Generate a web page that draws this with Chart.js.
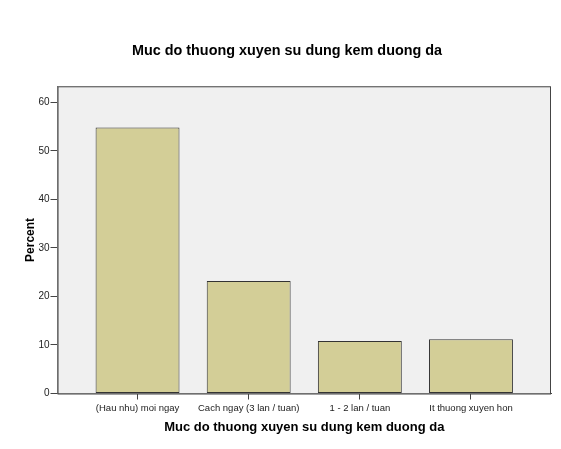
<!DOCTYPE html>
<html>
<head>
    <title>Muc do thuong xuyen su dung kem duong da</title>
    <script src="https://cdn.jsdelivr.net/npm/chart.js"></script>
    <style>
        body { margin: 0; background: #fff; }
        #wrap { width: 561px; height: 449px; position: relative; }
    </style>
</head>
<body>
    <div id="wrap"><canvas id="chart"></canvas></div>

    <script>
        // data
        const categories = ['(Hau nhu) moi ngay', 'Cach ngay (3 lan / tuan)', '1 - 2 lan / tuan', 'It thuong xuyen hon'];
        const percents = [54.8, 23.2, 10.8, 11.2];
        const yTicks = [0, 10, 20, 30, 40, 50, 60];

        // nen xam + khung quanh vung ve
        const frame = {
            id: 'frame',
            beforeDatasetsDraw(chart) {
                const { ctx, chartArea: a } = chart;
                ctx.save();
                ctx.fillStyle = '#f0f0f0';
                ctx.fillRect(a.left, a.top, a.right - a.left, a.bottom - a.top);
                ctx.restore();
            },
            afterDatasetsDraw(chart) {
                const { ctx, chartArea: a } = chart;
                ctx.save();
                ctx.strokeStyle = '#444';
                ctx.lineWidth = 1;
                ctx.strokeRect(a.left + 0.5, a.top + 0.5, a.right - a.left - 1, a.bottom - a.top);
                ctx.restore();
            }
        };

        const ctx = document.getElementById('chart').getContext('2d');
        new Chart(ctx, {
            type: 'bar',
            data: {
                datasets: [{
                    data: percents.map((v, i) => ({ x: i + 1, y: v })),
                    backgroundColor: '#d3ce97',
                    borderColor: '#333',
                    borderWidth: 1,
                    borderSkipped: false,
                    barPercentage: 0.755,
                    categoryPercentage: 1
                }]
            },
            options: {
                responsive: true,
                maintainAspectRatio: false,
                animation: false,
                layout: { padding: { left: 23, right: 10, top: 42, bottom: 13.5 } },
                plugins: {
                    legend: { display: false },
                    tooltip: { enabled: false },
                    title: {
                        display: true,
                        text: 'Muc do thuong xuyen su dung kem duong da',
                        color: '#000',
                        font: { family: 'Liberation Sans', size: 14.4, weight: 'bold' },
                        padding: { top: 0, bottom: 27 }
                    }
                },
                scales: {
                    x: {
                        type: 'linear',
                        offset: false,
                        min: 0.28,
                        max: 4.72,
                        afterBuildTicks: s => { s.ticks = categories.map((c, i) => ({ value: i + 1 })); },
                        ticks: {
                            callback: v => categories[v - 1],
                            color: '#222',
                            font: { family: 'Liberation Sans', size: 9.5 },
                            padding: 3,
                            maxRotation: 0,
                            autoSkip: false
                        },
                        grid: { offset: false, drawOnChartArea: false, tickLength: 6, color: '#444' },
                        border: { color: '#444' },
                        title: {
                            display: true,
                            text: 'Muc do thuong xuyen su dung kem duong da',
                            color: '#000',
                            font: { family: 'Liberation Sans', size: 13, weight: 'bold' },
                            padding: { top: 3, bottom: 0 }
                        }
                    },
                    y: {
                        min: 0,
                        max: 63.3,
                        afterBuildTicks: s => { s.ticks = yTicks.map(v => ({ value: v })); },
                        ticks: {
                            color: '#222',
                            font: { family: 'Liberation Sans', size: 10 },
                            padding: 1
                        },
                        grid: { drawOnChartArea: false, tickLength: 7, color: '#444' },
                        border: { color: '#444' },
                        title: {
                            display: true,
                            text: 'Percent',
                            color: '#000',
                            font: { family: 'Liberation Sans', size: 12, weight: 'bold' },
                            padding: { top: 0, bottom: 0 }
                        }
                    }
                }
            },
            plugins: [frame]
        });
    </script>
</body>
</html>
